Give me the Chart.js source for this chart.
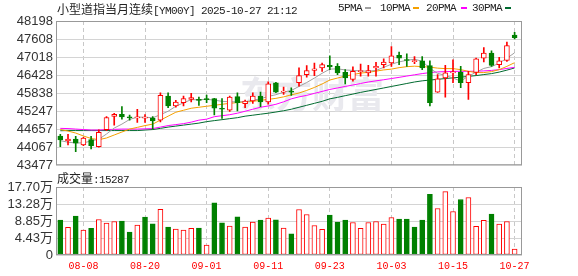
<!DOCTYPE html>
<html>
<head>
<meta charset="utf-8">
<script src="https://cdn.jsdelivr.net/npm/chart.js@4.4.0/dist/chart.umd.min.js"></script>
<style>
  html, body { margin: 0; padding: 0; background: #fff; }
  #wrap { position: relative; width: 578px; height: 276px; overflow: hidden; color: #222;
          font-family: "Liberation Mono", "Noto Sans CJK SC", monospace; }
  #price { position: absolute; left: 0; top: 0; }
  #vol { position: absolute; left: 0; top: 170px; }
  .txt { position: absolute; white-space: nowrap; font-size: 11px; letter-spacing: -0.6px; line-height: 13px; }
  .cjk { font-family: "Noto Sans CJK SC", sans-serif; font-size: 12px; letter-spacing: 0; }
  .dash { position: absolute; width: 6px; height: 2px; }
</style>
</head>
<body>
<div id="wrap">
  <canvas id="price" width="578" height="176"></canvas>
  <canvas id="vol" width="578" height="106"></canvas>
  <div class="txt" style="left:57px;top:2px"><span class="cjk">小型道指当月连续</span>[YM00Y] 2025-10-27 21:12</div>
  <div class="txt" style="left:338px;top:2px">5PMA</div><div class="dash" style="left:365px;top:7px;background:#a0a0a0"></div>
  <div class="txt" style="left:380px;top:2px">10PMA</div><div class="dash" style="left:413px;top:7px;background:#f5a000"></div>
  <div class="txt" style="left:426px;top:2px">20PMA</div><div class="dash" style="left:461px;top:7px;background:#ff00ff"></div>
  <div class="txt" style="left:472px;top:2px">30PMA</div><div class="dash" style="left:505px;top:7px;background:#006b30"></div>
  <div class="txt" id="volLabel" style="left:57px;top:171px"></div>
</div>
<script>
// daily bars (red = up, green = down)
const dates = ['08-05','08-06','08-07','08-08','08-11','08-12','08-13','08-14','08-15','08-18',
  '08-19','08-20','08-21','08-22','08-25','08-26','08-27','08-28','08-29','09-01',
  '09-02','09-03','09-04','09-05','09-08','09-09','09-10','09-11','09-12','09-15',
  '09-16','09-17','09-18','09-19','09-22','09-23','09-24','09-25','09-26','09-29',
  '09-30','10-01','10-02','10-03','10-06','10-07','10-08','10-09','10-10','10-13',
  '10-14','10-15','10-16','10-17','10-20','10-21','10-22','10-23','10-24','10-27'];
const tickDates = ['08-08','08-20','09-01','09-11','09-23','10-03','10-15','10-27'];

const open = [44433,44271,44336,44141,44313,44086,44637,45072,45146,45049,
  45027,45017,45017,44952,45740,45416,45526,45633,45633,45656,
  45656,45341,45276,45721,45494,45578,45740,45545,46175,45870,
  45902,46175,46444,46583,46661,46745,46713,46518,46282,46540,
  46500,46661,46768,46823,47070,46935,46870,46898,46736,45870,
  46337,46499,46518,46175,46518,46985,47148,46768,46908,47741];
const high = [44488,44488,44423,44391,44423,44637,45072,45179,45396,45114,
  45309,45137,45072,45850,45850,45601,45740,45828,45708,45773,
  45670,45656,45740,45850,45610,45850,45870,46207,46194,46032,
  46012,46661,46736,46823,46823,47060,46801,46606,46694,46791,
  46745,46843,46963,47362,47180,47125,47037,47037,46898,46444,
  46745,46930,46713,46551,46985,47329,47222,47005,47504,47829];
const low = [44086,44141,43924,44119,44012,44067,44605,44790,44984,44952,
  44877,44877,44660,44897,45364,45374,45416,45545,45438,45526,
  45124,45007,45234,45254,45364,45503,45396,45471,45850,45795,
  45763,46064,46356,46411,46551,46606,46444,46142,46227,46389,
  46389,46389,46661,46713,46768,46713,46800,46606,45416,45860,
  45708,46175,46012,45633,46444,46856,46713,46661,46875,47611];
const close = [44303,44336,44196,44368,44119,44553,45040,45146,45059,45027,
  45049,45040,44929,45763,45416,45545,45656,45688,45601,45623,
  45341,45309,45708,45526,45578,45740,45545,46142,45870,45902,
  45870,46411,46574,46629,46768,46693,46499,46337,46551,46560,
  46575,46713,46856,47060,46985,46905,46900,46661,45526,46304,
  46499,46518,46175,46444,46963,47148,46745,46898,47394,47653];
const volume = [90700,71800,101000,64800,69100,92500,82900,87300,88100,59600,
  77800,98500,81200,119200,72600,67400,64800,69100,70000,25900,
  135600,83800,75200,99400,72600,85500,90700,95900,91600,70000,
  55000,118400,105400,76900,66500,103700,85500,90700,84700,69100,
  84700,87300,80400,97700,93300,93300,72600,90700,158100,121000,
  165100,113300,144400,149600,74400,90000,106300,80400,87300,15287];

// moving averages as drawn in the picture
const ma5 = [44281,44229,44206,44206,44271,44326,44498,44693,44822,44975,
  45049,45049,45030,45130,45244,45406,45519,45623,45617,45633,
  45607,45568,45552,45552,45555,45601,45649,45730,45785,45866,
  45925,46055,46184,46330,46486,46622,46632,46596,46580,46564,
  46554,46580,46680,46784,46859,46911,46946,46882,46645,46483,
  46418,46330,46233,46389,46522,46645,46703,46820,46979,47157];
const ma10 = [44644,44595,44530,44433,44352,44313,44368,44466,44563,44660,
  44715,44774,44822,44952,45082,45211,45276,45341,45374,45406,
  45438,45471,45503,45526,45552,45568,45601,45633,45665,45714,
  45780,45840,45925,46022,46136,46265,46330,46395,46444,46492,
  46518,46557,46596,46622,46671,46703,46719,46703,46687,46655,
  46639,46639,46606,46551,46509,46509,46541,46606,46713,46833];
const ma20 = [44683,44676,44660,44644,44628,44628,44644,44650,44660,44660,
  44660,44667,44676,44725,44774,44806,44838,44887,44952,44984,
  45065,45098,45130,45179,45244,45309,45374,45416,45471,45552,
  45649,45714,45763,45828,45892,45957,46006,46055,46103,46152,
  46201,46239,46275,46314,46353,46395,46437,46476,46509,46531,
  46541,46548,46551,46551,46554,46564,46580,46606,46645,46680];
const ma30 = [44605,44611,44611,44611,44611,44611,44611,44611,44611,44611,
  44611,44628,44644,44683,44725,44757,44790,44822,44855,44903,
  44936,44968,45001,45033,45082,45114,45147,45179,45218,45260,
  45309,45374,45438,45503,45568,45649,45698,45753,45805,45860,
  45909,45957,46006,46055,46103,46152,46201,46239,46265,46288,
  46314,46337,46359,46385,46411,46444,46476,46525,46590,46661];

const priceTicks = [43477,44067,44657,45247,45838,46428,47018,47608,48198];
const volTicks = [0,44250,88500,132750,177000];
const volTickLabels = ['0','4.43万','8.85万','13.28万','17.70万'];

const RED = '#ff0000', GREEN = '#008000';
const idx = dates.map((d, i) => i);
const tickIdx = tickDates.map(d => dates.indexOf(d));
const candleUp = idx.map(i => close[i] >= open[i]);
const volUp = idx.map(i => close[i] >= (i ? close[i - 1] : open[i]));
const labelFont = { family: "'Liberation Sans', 'Noto Sans CJK SC', sans-serif", size: 13 };

document.getElementById('volLabel').innerHTML =
  '<span class="cjk">成交量</span>:' + volume[volume.length - 1];

// frame round the plot area, plus the faint watermark
const frame = {
  id: 'frame',
  beforeDatasetsDraw(chart, args, opts) {
    if (!opts.mark) return;
    const ctx = chart.ctx;
    ctx.save();
    ctx.fillStyle = '#e9e9ee';
    ctx.font = "bold 36px 'Noto Sans CJK SC'";
    ctx.textBaseline = 'alphabetic';
    ctx.fillText('东方财富', 240, 108);
    ctx.restore();
  },
  afterDraw(chart) {
    const { ctx, chartArea: a } = chart;
    ctx.save();
    ctx.strokeStyle = '#999';
    ctx.lineWidth = 1;
    ctx.strokeRect(a.left + 0.5, a.top + 0.5, a.right - a.left - 1, a.bottom - a.top - 1);
    ctx.restore();
  }
};

function xScale(showLabels) {
  return {
    type: 'linear', min: -0.56, max: 59.96, offset: false,
    afterBuildTicks: s => { s.ticks = tickIdx.map(v => ({ value: v })); },
    afterFit: s => { s.height = showLabels ? 21 : 0; },
    grid: { color: '#c8c8c8', drawTicks: false, offset: false },
    border: { display: false, dash: [4, 3] },
    ticks: {
      display: showLabels, color: RED, padding: 5, maxRotation: 0, autoSkip: false,
      font: { family: "'Liberation Mono', monospace", size: 10 },
      callback: v => dates[v]
    }
  };
}

function yScale(min, max, ticks, labels) {
  return {
    min, max,
    afterBuildTicks: s => { s.ticks = ticks.map(v => ({ value: v })); },
    afterFit: s => { s.width = 56; },
    grid: { color: '#d4d4d4', drawTicks: false },
    border: { display: false },
    ticks: { padding: 3, color: '#333', font: labelFont, autoSkip: false, callback: (v, i) => labels[i] }
  };
}

function maLine(label, values, color) {
  return {
    type: 'line', label, data: idx.map(i => ({ x: i, y: values[i] })),
    borderColor: color, borderWidth: 1, pointRadius: 0, tension: 0, order: 3
  };
}

new Chart(document.getElementById('price'), {
  type: 'line',
  data: {
    datasets: [
      {
        type: 'bar', label: 'wick',
        data: idx.map(i => ({ x: i, y: [low[i], high[i]] })),
        backgroundColor: idx.map(i => candleUp[i] ? RED : GREEN),
        barThickness: 1, grouped: false, order: 2
      },
      {
        type: 'bar', label: 'body',
        data: idx.map(i => ({ x: i, y: [open[i], close[i]] })),
        backgroundColor: idx.map(i => candleUp[i] ? '#fff' : GREEN),
        borderColor: idx.map(i => candleUp[i] ? RED : GREEN),
        borderWidth: 1, borderSkipped: false, minBarLength: 1,
        barThickness: 5, grouped: false, order: 1
      },
      maLine('5PMA', ma5, '#a0a0a0'),
      maLine('10PMA', ma10, '#f5a000'),
      maLine('20PMA', ma20, '#ff00ff'),
      maLine('30PMA', ma30, '#006b30')
    ]
  },
  options: {
    responsive: false, animation: false, events: [],
    layout: { padding: { top: 21, right: 56, bottom: 10, left: 0 } },
    plugins: { legend: { display: false }, tooltip: { enabled: false }, frame: { mark: true } },
    scales: {
      x: xScale(false),
      y: yScale(43477, 48198, priceTicks, priceTicks.map(String))
    }
  },
  plugins: [frame]
});

new Chart(document.getElementById('vol'), {
  type: 'bar',
  data: {
    datasets: [{
      label: 'volume',
      data: idx.map(i => ({ x: i, y: volume[i] })),
      backgroundColor: idx.map(i => volUp[i] ? '#fff' : GREEN),
      borderColor: idx.map(i => volUp[i] ? RED : GREEN),
      borderWidth: 1, borderSkipped: false, barThickness: 5, grouped: false
    }]
  },
  options: {
    responsive: false, animation: false, events: [],
    layout: { padding: { top: 17, right: 56, bottom: 0, left: 0 } },
    plugins: { legend: { display: false }, tooltip: { enabled: false } },
    scales: {
      x: xScale(true),
      y: yScale(0, 177000, volTicks, volTickLabels)
    }
  },
  plugins: [frame]
});
</script>
</body>
</html>
